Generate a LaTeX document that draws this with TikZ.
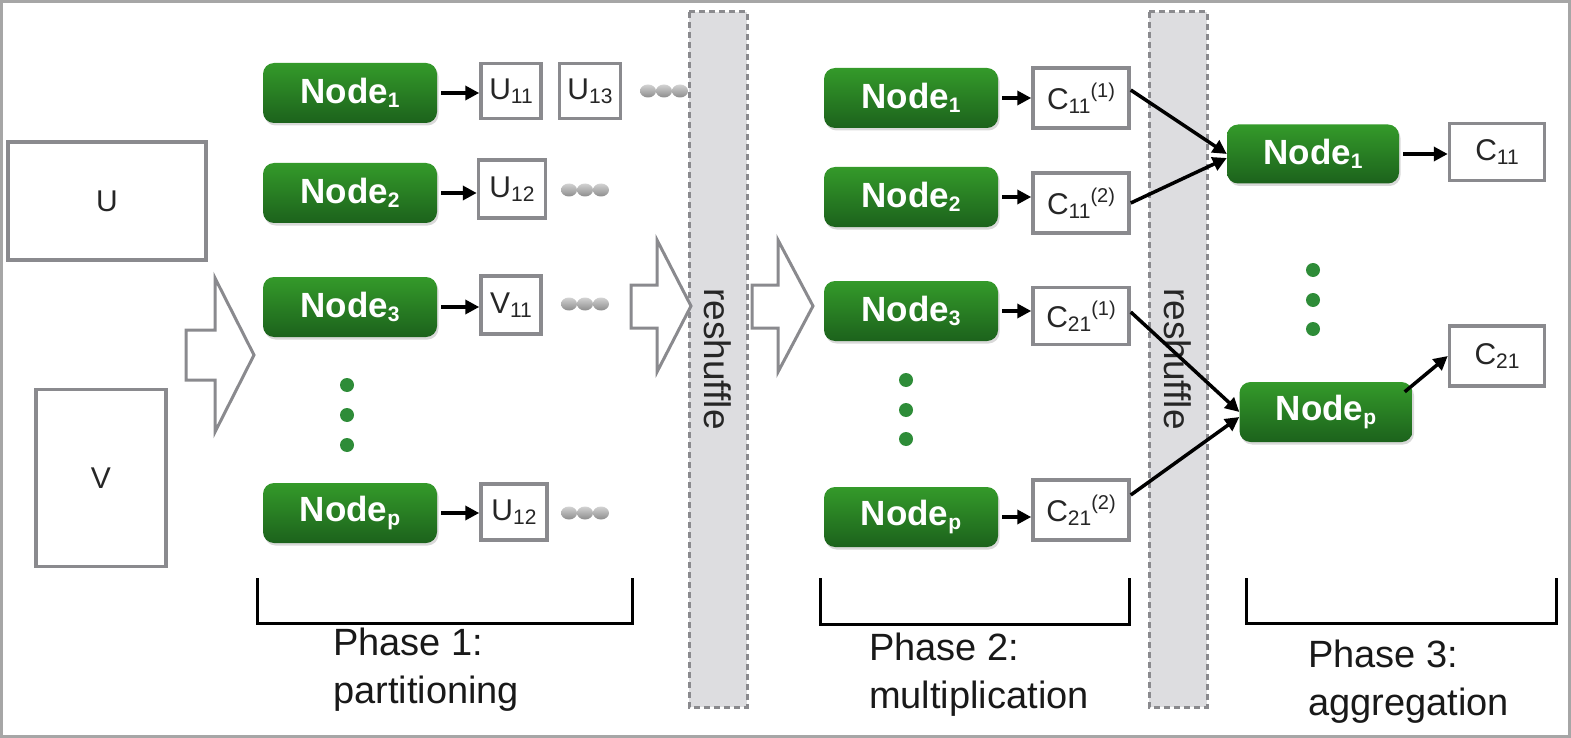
\documentclass[tikz,border=0pt]{standalone}
\usepackage{fontspec}
\setmainfont{Liberation Sans}
\usetikzlibrary{arrows.meta,shadows}
\definecolor{boxgray}{RGB}{138,138,142}
\definecolor{bandgray}{RGB}{221,221,224}
\definecolor{greentop}{RGB}{52,154,42}
\definecolor{greenbot}{RGB}{28,98,28}
\definecolor{dotgreen}{RGB}{46,140,56}
\newcommand\dn[1]{\raisebox{-0.12em}{\fontsize{21}{21}\selectfont #1}}
\newcommand\up[1]{\raisebox{0.40em}{\fontsize{20}{20}\selectfont #1}}

\begin{document}
\begin{tikzpicture}[x=1pt,y=-1pt,
  worker/.style={rounded corners=11pt,minimum width=174pt,minimum height=60pt,
    top color=greentop,bottom color=greenbot,text=white,
    font=\fontsize{35}{35}\selectfont\bfseries,
    drop shadow={opacity=0.3,shadow xshift=1.5pt,shadow yshift=-2.5pt}},
  cell/.style={draw=boxgray,line width=3.5pt,fill=white,minimum height=57pt,
    inner sep=0pt,text=black!85,font=\fontsize{30}{30}\selectfont},
  flow/.style={line width=3.5pt,-{Triangle[length=14pt,width=14pt]},shorten <=4pt},
  bigarrow/.style={draw=boxgray,line width=3pt,fill=white},
  band/.style={draw=boxgray,fill=bandgray,line width=3pt,dash pattern=on 6pt off 4pt},
  bracket/.style={line width=3pt},
  phase/.style={anchor=north west,inner sep=0pt,align=left,text=black!90,
    font=\fontsize{38}{48}\selectfont}]
  \useasboundingbox (0,0) rectangle (1571,738);
  % cadre
  \draw[line width=3pt,gray!70] (1.5,1.5) rectangle (1569.5,736.5);
  % matrices U et V
  \node[cell,minimum width=198pt,minimum height=118pt] (U) at (107,201) {U};
  \node[cell,minimum width=130pt,minimum height=177pt] (V) at (101,478) {V};
  % grandes fleches
  \draw[bigarrow] (186,330) -- (215,330) -- (215,278) -- (254,355) -- (215,432) -- (215,380) -- (186,380) -- cycle;
  % bandes reshuffle
  \draw[band] (689,12) rectangle (747,707);
  \draw[band] (1149,12) rectangle (1207,707);
  \node[rotate=-90,font=\fontsize{37}{37}\selectfont,text=black!85] (rs1) at (718,359) {reshuffle};
  \node[rotate=-90,font=\fontsize{37}{37}\selectfont,text=black!85] (rs2) at (1178,359) {reshuffle};
  \draw[bigarrow] (631,285) -- (657,285) -- (657,240) -- (691,306) -- (657,372) -- (657,328) -- (631,328) -- cycle;
  \draw[bigarrow] (752,285) -- (778,285) -- (778,240) -- (813,306) -- (778,372) -- (778,328) -- (752,328) -- cycle;

  % phase 1
  \node[worker] (p1n1) at (350,93) {Node\dn{1}};
  \node[worker] (p1n2) at (350,193) {Node\dn{2}};
  \node[worker] (p1n3) at (350,307) {Node\dn{3}};
  \node[worker] (p1np) at (350,513) {Node\dn{p}};
  \foreach \y in {385,415,445} \fill[dotgreen] (347,\y) circle (7);
  \node[cell,minimum width=60pt,minimum height=55pt] (u11) at (511,91) {U\dn{11}};
  \node[cell,minimum width=61pt,minimum height=55pt] (u13) at (590,91) {U\dn{13}};
  \node[cell,minimum width=67pt,minimum height=58pt] (u12) at (512,189) {U\dn{12}};
  \node[cell,minimum width=60pt,minimum height=58pt] (v11) at (511,305) {V\dn{11}};
  \node[cell,minimum width=66pt,minimum height=56pt] (u12b) at (514,512) {U\dn{12}};
  \draw[flow] (p1n1.east) -- (p1n1.east -| u11.west);
  \draw[flow] (p1n2.east) -- (p1n2.east -| u12.west);
  \draw[flow] (p1n3.east) -- (p1n3.east -| v11.west);
  \draw[flow] (p1np.east) -- (p1np.east -| u12b.west);
  % points gris
  \foreach \x in {648,664,680}
    \shade[top color=gray!35,bottom color=gray!90] (\x,91) ellipse (8 and 6.5);
  \foreach \y in {190,304,513}
    \foreach \x in {569,585,601}
      \shade[top color=gray!35,bottom color=gray!90] (\x,\y) ellipse (8 and 6.5);

  % phase 2
  \node[worker] (p2n1) at (911,98) {Node\dn{1}};
  \node[worker] (p2n2) at (911,197) {Node\dn{2}};
  \node[worker] (p2n3) at (911,311) {Node\dn{3}};
  \node[worker] (p2np) at (911,517) {Node\dn{p}};
  \foreach \y in {380,410,439} \fill[dotgreen] (906,\y) circle (7);
  \node[cell,minimum width=96pt,minimum height=60pt] (c11a) at (1081,98) {C\dn{11}\up{(1)}};
  \node[cell,minimum width=96pt,minimum height=60pt] (c11b) at (1081,203) {C\dn{11}\up{(2)}};
  \node[cell,minimum width=96pt,minimum height=57pt] (c21a) at (1081,316) {C\dn{21}\up{(1)}};
  \node[cell,minimum width=96pt,minimum height=60pt] (c21b) at (1081,510) {C\dn{21}\up{(2)}};
  \draw[flow] (p2n1.east) -- (p2n1.east -| c11a.west);
  \draw[flow] (p2n2.east) -- (p2n2.east -| c11b.west);
  \draw[flow] (p2n3.east) -- (p2n3.east -| c21a.west);
  \draw[flow] (p2np.east) -- (p2np.east -| c21b.west);

  % phase 3
  \node[worker,minimum width=172pt,minimum height=59pt] (p3n1) at (1313,154) {Node\dn{1}};
  \node[worker,minimum width=173pt] (p3np) at (1326,412) {Node\dn{p}};
  \foreach \y in {270,300,329} \fill[dotgreen] (1313,\y) circle (7);
  \node[cell,minimum width=95pt,minimum height=57pt] (c11) at (1497,152) {C\dn{11}};
  \node[cell,minimum width=95pt,minimum height=60pt] (c21) at (1497,356) {C\dn{21}};
  % reshuffle des blocs
  \draw[flow,shorten <=0pt] ([yshift=8pt]c11a.east) -- (p3n1.west);
  \draw[flow,shorten <=0pt] (c11b.east) -- ([yshift=-4pt]p3n1.west);
  \draw[flow,shorten <=0pt] ([yshift=4pt]c21a.east) -- (p3np.west);
  \draw[flow,shorten <=0pt] ([yshift=15pt]c21b.east) -- ([yshift=-5pt]p3np.west);
  \draw[flow] (p3n1.east) -- (p3n1.east -| c11.west);
  \draw[flow,shorten <=0pt] ([xshift=-8pt,yshift=-10pt]p3np.north east) -- (c21.west);

  % accolades et phases
  \draw[bracket] (257,578) -- (257,623) -- (632,623) -- (632,578);
  \draw[bracket] (820,578) -- (820,624) -- (1129,624) -- (1129,578);
  \draw[bracket] (1246,578) -- (1246,623) -- (1556,623) -- (1556,578);
  \node[phase] (ph1) at (333,628) {Phase 1:\\partitioning};
  \node[phase] (ph2) at (869,633) {Phase 2:\\multiplication};
  \node[phase] (ph3) at (1308,640) {Phase 3:\\aggregation};
\end{tikzpicture}
\end{document}
